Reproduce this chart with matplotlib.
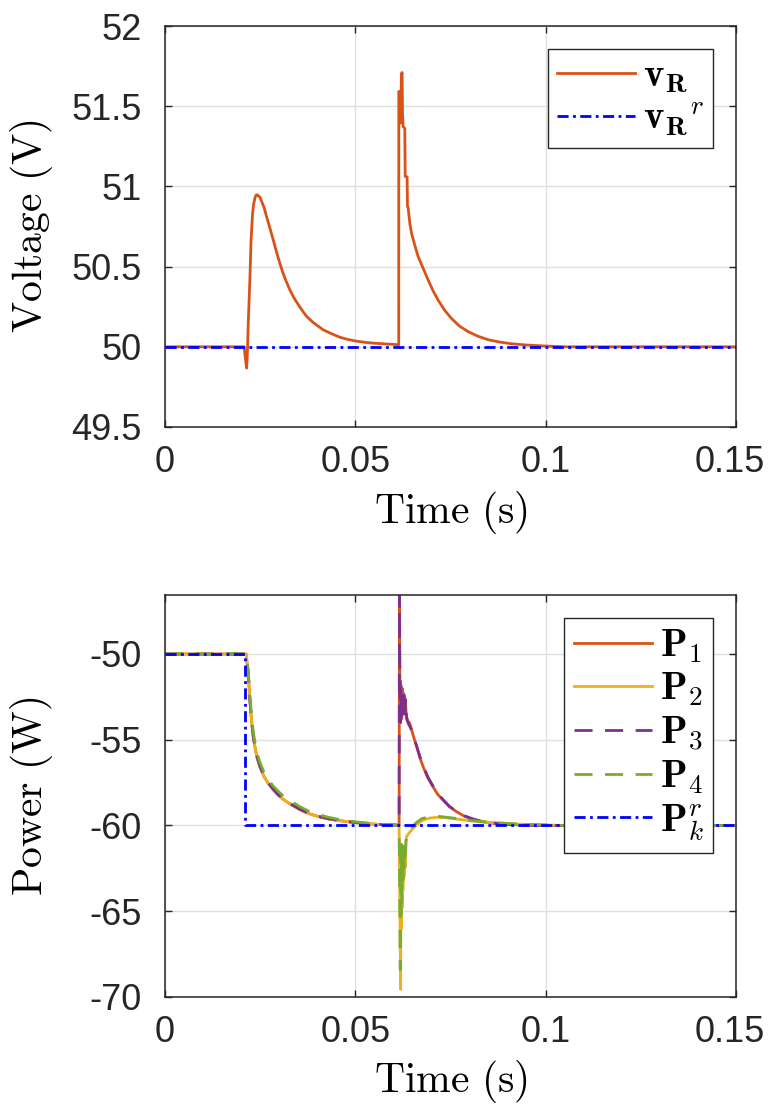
import matplotlib
matplotlib.use("Agg")
import matplotlib.pyplot as plt
from matplotlib.transforms import ScaledTranslation

plt.rcParams['font.family'] = ['Liberation Sans', 'DejaVu Sans']
plt.rcParams['mathtext.fontset'] = 'cm'
plt.rcParams['axes.unicode_minus'] = False

# ---------------- data ----------------
# Top panel: voltage
t_v = [0.0, 0.0208, 0.0211, 0.02144, 0.0216, 0.02187, 0.0223, 0.0226, 0.0230, 0.0233,
       0.02362, 0.0239, 0.02423, 0.0246, 0.0250, 0.0254, 0.0260, 0.0267, 0.0275,
       0.02843, 0.0293, 0.03018, 0.0310, 0.0318, 0.0328, 0.0340, 0.0355, 0.0372,
       0.0390, 0.04155, 0.0437, 0.0459, 0.0480, 0.0503, 0.0525, 0.0547, 0.0578,
       0.0608, 0.0614, 0.06142, 0.06168, 0.0618, 0.06194, 0.0621, 0.06229, 0.0624,
       0.06255, 0.06299, 0.0631, 0.0636, 0.0637, 0.06386, 0.06431, 0.06475, 0.0656,
       0.06649, 0.0678, 0.0691, 0.0704, 0.0717, 0.0734, 0.0752, 0.0773, 0.0796,
       0.0822, 0.0849, 0.0878, 0.091, 0.095, 0.0997, 0.105, 0.15]
v_R = [50.0, 50.0, 49.93, 49.867, 49.93, 50.147, 50.42, 50.66, 50.83, 50.89,
       50.927, 50.945, 50.948, 50.94, 50.93, 50.905, 50.87, 50.81, 50.745,
       50.667, 50.59, 50.52, 50.46, 50.41, 50.355, 50.30, 50.245, 50.189,
       50.15, 50.106, 50.082, 50.06, 50.046, 50.035, 50.028, 50.023, 50.018,
       50.014, 50.012, 51.592, 51.58, 51.395, 51.40, 51.70, 51.71, 51.45,
       51.373, 51.363, 51.062, 51.06, 50.875, 50.87, 50.771, 50.709, 50.635,
       50.563, 50.49, 50.418, 50.35, 50.293, 50.23, 50.178, 50.13, 50.095,
       50.066, 50.044, 50.03, 50.019, 50.011, 50.005, 50.0, 50.0]
t_vr = [0.0, 0.15]
v_Rr = [50.0, 50.0]

# Bottom panel: power
t_p1 = [0.0, 0.0213, 0.02187, 0.0223, 0.0226, 0.0229, 0.0232, 0.0236, 0.0242, 0.0249,
        0.0259, 0.0271, 0.0284, 0.0297, 0.0314, 0.0333, 0.0354, 0.0376, 0.0402, 0.0429,
        0.0460, 0.0490, 0.0515, 0.0543, 0.0570, 0.0600, 0.0615, 0.0616, 0.06175, 0.0619,
        0.0621, 0.0623, 0.0625, 0.0627, 0.0629, 0.0631, 0.0634, 0.0638, 0.0643, 0.0652,
        0.0661, 0.0669, 0.0678, 0.0690, 0.0704, 0.0716, 0.0730, 0.0747, 0.0766, 0.0786,
        0.0809, 0.0834, 0.0862, 0.0895, 0.0932, 0.100, 0.15]
P1 = [-50.0, -50.0, -51.13, -52.68, -53.5, -54.24, -54.85, -55.4, -56.05, -56.57,
      -57.1, -57.54, -57.9, -58.22, -58.53, -58.8, -59.07, -59.29, -59.47, -59.62,
      -59.72, -59.81, -59.86, -59.91, -59.95, -59.97, -59.98, -46.56, -53.5, -51.6,
      -53.8, -52.0, -53.5, -52.3, -53.2, -52.6, -53.6, -53.9, -54.04, -54.75,
      -55.4, -56.0, -56.57, -57.2, -57.74, -58.17, -58.51, -58.9, -59.2, -59.45,
      -59.64, -59.78, -59.87, -59.93, -59.97, -60.0, -60.0]

t_p2 = [0.0, 0.0213, 0.02187, 0.0223, 0.0226, 0.0229, 0.0232, 0.0236, 0.0242, 0.0249,
        0.0259, 0.0271, 0.0284, 0.0297, 0.0314, 0.0333, 0.0354, 0.0376, 0.0402, 0.0429,
        0.0460, 0.0490, 0.0515, 0.0543, 0.0570, 0.0600, 0.0615, 0.0619, 0.0620, 0.0621,
        0.0622, 0.0623, 0.0624, 0.0625, 0.0627, 0.0628, 0.0630, 0.0631, 0.0633, 0.06344,
        0.0643, 0.06518, 0.0664, 0.0678, 0.0695, 0.07131, 0.0735, 0.07567, 0.0778,
        0.08005, 0.0840, 0.0888, 0.0930, 0.09756, 0.105, 0.15]
P2 = [-50.0, -50.0, -51.13, -52.68, -53.5, -54.24, -54.85, -55.4, -56.05, -56.57,
      -57.1, -57.54, -57.9, -58.22, -58.53, -58.8, -59.07, -59.29, -59.47, -59.62,
      -59.72, -59.81, -59.86, -59.91, -59.95, -59.97, -59.98, -69.55, -62.0, -66.0,
      -61.6, -64.8, -61.5, -63.8, -61.6, -63.0, -61.3, -62.4, -61.0, -60.65,
      -60.38, -60.16, -59.9, -59.68, -59.57, -59.52, -59.54, -59.6, -59.66,
      -59.72, -59.8, -59.87, -59.92, -59.95, -60.0, -60.0]

t_p3 = [0.0, 0.0213, 0.02187, 0.0223, 0.0226, 0.0229, 0.0232, 0.0236, 0.0242, 0.0249,
        0.0259, 0.0271, 0.0284, 0.0297, 0.0314, 0.0333, 0.0354, 0.0376, 0.0402, 0.0429,
        0.0460, 0.0490, 0.0515, 0.0543, 0.0570, 0.0600, 0.0615, 0.0616, 0.0617, 0.0619,
        0.0620, 0.0622, 0.0624, 0.0626, 0.0628, 0.0630, 0.0632, 0.0635, 0.0640, 0.0645,
        0.0653, 0.0661, 0.0669, 0.0678, 0.0690, 0.0704, 0.0716, 0.0730, 0.0747, 0.0766,
        0.0786, 0.0809, 0.0834, 0.0862, 0.0895, 0.0932, 0.100, 0.15]
P3 = [-50.0, -50.0, -51.1, -52.65, -53.45, -54.2, -54.8, -55.35, -56.0, -56.5,
      -57.05, -57.5, -57.88, -58.2, -58.5, -58.78, -59.05, -59.27, -59.46, -59.6,
      -59.71, -59.8, -59.86, -59.9, -59.95, -59.97, -59.98, -46.56, -52.5, -54.0,
      -51.7, -53.9, -52.2, -53.8, -52.4, -53.5, -52.7, -53.8, -54.1, -54.3,
      -54.85, -55.35, -55.95, -56.5, -57.15, -57.7, -58.13, -58.48, -58.88, -59.18,
      -59.43, -59.62, -59.77, -59.86, -59.93, -59.97, -60.0, -60.0]

t_p4 = [0.0, 0.0213, 0.02187, 0.0223, 0.0226, 0.0229, 0.0232, 0.0236, 0.0242, 0.0249,
        0.0259, 0.0271, 0.0284, 0.0297, 0.0314, 0.0333, 0.0354, 0.0376, 0.0402, 0.0429,
        0.0460, 0.0490, 0.0515, 0.0543, 0.0570, 0.0600, 0.0615, 0.0618, 0.0619, 0.0620,
        0.0621, 0.0622, 0.0623, 0.0625, 0.0626, 0.0628, 0.0629, 0.0631, 0.0633, 0.0636,
        0.0643, 0.0650, 0.0662, 0.0675, 0.0692, 0.0710, 0.0732, 0.0755, 0.0777,
        0.0800, 0.0840, 0.0885, 0.0930, 0.0975, 0.105, 0.15]
P4 = [-50.0, -50.0, -51.0, -52.4, -53.25, -53.9, -54.55, -55.1, -55.8, -56.3,
      -56.85, -57.3, -57.7, -58.0, -58.35, -58.6, -58.9, -59.15, -59.36, -59.52,
      -59.66, -59.75, -59.82, -59.88, -59.93, -59.96, -59.98, -68.4, -61.5, -65.2,
      -61.0, -64.5, -61.5, -63.2, -61.2, -62.5, -61.3, -61.8, -60.9, -60.5,
      -60.25, -60.05, -59.8, -59.6, -59.5, -59.45, -59.5, -59.56, -59.63,
      -59.7, -59.79, -59.86, -59.92, -59.95, -60.0, -60.0]

t_pr = [0.0, 0.0211, 0.0211, 0.15]
P_r = [-50.0, -50.0, -60.0, -60.0]

# tick labels
x_ticks = [0, 0.05, 0.1, 0.15]
x_ticklabels = ['0', '0.05', '0.1', '0.15']
v_ticks = [49.5, 50, 50.5, 51, 51.5, 52]
v_ticklabels = ['49.5', '50', '50.5', '51', '51.5', '52']
p_ticks = [-70, -65, -60, -55, -50]
p_ticklabels = ['-70', '-65', '-60', '-55', '-50']

# ---------------- style ----------------
c1 = '#D95319'
c2 = '#EDB120'
c3 = '#7E2F8E'
c4 = '#77AC30'
cb = '#0000FF'
lw = 2.0
dashdot = (4, 1.6, 1, 1.6)
dashed = (6.5, 4.5)

W, H = 770, 1106
fig = plt.figure(figsize=(W / 100, H / 100), dpi=100)

def px_axes(left, top, right, bottom):
    return fig.add_axes([left / W, 1 - bottom / H, (right - left) / W, (bottom - top) / H])

ax1 = px_axes(165, 26, 736, 427)
ax2 = px_axes(165, 595, 736, 997)

def style(ax):
    ax.grid(True, color='#DFDFDF', linewidth=1.0)
    ax.set_axisbelow(True)
    for s in ax.spines.values():
        s.set_color('#262626')
        s.set_linewidth(1.1)
    ax.tick_params(direction='in', length=5, width=1.0, colors='#262626',
                   labelsize=26, top=True, right=True)
    ax.tick_params(axis='y', pad=17)
    ax.tick_params(axis='x', pad=13)
    ax.set_xlim(0, 0.15)
    ax.set_xticks(x_ticks)
    ax.set_xticklabels(x_ticklabels)

ax1.plot(t_v, v_R, color=c1, lw=lw, label=r'$\mathbf{v}_{\mathbf{R}}$')
ax1.plot(t_vr, v_Rr, color=cb, lw=lw, dashes=dashdot, label=r'${\mathbf{v}_{\mathbf{R}}}^{r}$')
style(ax1)
ax1.set_ylim(49.5, 52)
ax1.set_yticks(v_ticks)
ax1.set_yticklabels(v_ticklabels)

ax2.plot(t_p1, P1, color=c1, lw=lw, label=r'$\mathbf{P}_1$')
ax2.plot(t_p2, P2, color=c2, lw=lw, label=r'$\mathbf{P}_2$')
ax2.plot(t_p3, P3, color=c3, lw=lw, dashes=dashed, label=r'$\mathbf{P}_3$')
ax2.plot(t_p4, P4, color=c4, lw=lw, dashes=dashed, label=r'$\mathbf{P}_4$')
ax2.plot(t_pr, P_r, color=cb, lw=lw, dashes=dashdot, label=r'$\mathbf{P}_k^r$')
style(ax2)
ax2.set_ylim(-70, -46.56)
ax2.set_yticks(p_ticks)
ax2.set_yticklabels(p_ticklabels)

# the last x tick label sits slightly left so that it fits inside the figure
for ax in (ax1, ax2):
    last = ax.get_xticklabels()[-1]
    last.set_transform(last.get_transform() + ScaledTranslation(-6 / 100, 0, fig.dpi_scale_trans))

for ax, yl in ((ax1, r'$\mathrm{Voltage\ (V)}$'), (ax2, r'$\mathrm{Power\ (W)}$')):
    ax.set_xlabel(r'$\mathrm{Time\ (s)}$', fontsize=30)
    ax.set_ylabel(yl, fontsize=30)
    ax.yaxis.set_label_coords(-0.1926, 0.5)
ax1.xaxis.set_label_coords(0.5, -0.155)
ax2.xaxis.set_label_coords(0.5, -0.152)

for ax in (ax1, ax2):
    leg = ax.legend(loc='upper right', fontsize=28, handlelength=2.0, handletextpad=0.2,
                    labelspacing=0.15, borderpad=0.25, borderaxespad=0.58,
                    fancybox=False, framealpha=1, edgecolor='#262626')
    leg.get_frame().set_linewidth(1.0)

fig.savefig('out.png', dpi=100)
